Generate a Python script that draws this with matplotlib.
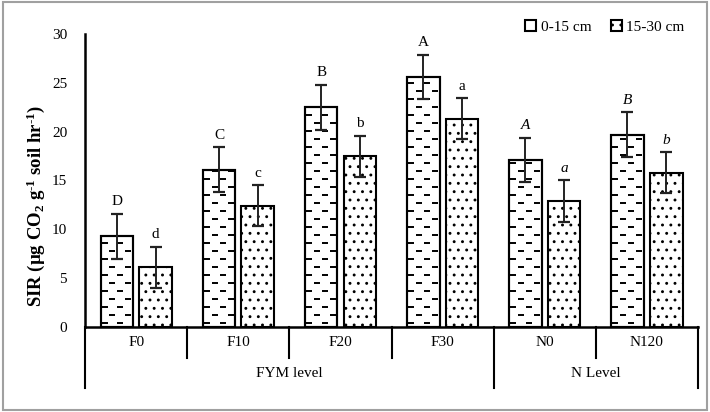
import numpy as np
import matplotlib
matplotlib.use("Agg")
import matplotlib.pyplot as plt
from matplotlib.patches import Rectangle, Patch
import matplotlib.transforms as mtransforms

plt.rcParams['font.family'] = ['Liberation Serif', 'DejaVu Serif']
plt.rcParams['mathtext.fontset'] = 'custom'
plt.rcParams['mathtext.rm'] = 'Liberation Serif:bold'
plt.rcParams['mathtext.bf'] = 'Liberation Serif:bold'
plt.rcParams['mathtext.default'] = 'rm'
plt.rcParams['hatch.linewidth'] = 0.9

categories = ["F0", "F10", "F20", "F30", "N0", "N120"]
groups = ["FYM level", "N Level"]
group_spans = [(0, 3), (4, 5)]
series_names = ["0-15 cm", "15-30 cm"]
sir_0_15 = [9.3, 16.1, 22.5, 25.6, 17.1, 19.7]
sir_15_30 = [6.1, 12.4, 17.5, 21.3, 12.9, 15.8]
err_0_15 = [2.3, 2.3, 2.3, 2.3, 2.3, 2.3]
err_15_30 = [2.1, 2.1, 2.1, 2.1, 2.1, 2.1]
letters_0_15 = ["D", "C", "B", "A", "A", "B"]
letters_15_30 = ["d", "c", "b", "a", "a", "b"]
italic_letters = [False, False, False, False, True, True]
yticks = [0, 5, 10, 15, 20, 25, 30]

fig = plt.figure(figsize=(7.1, 4.12), dpi=100)
ax = fig.add_axes([0.12, 0.2063, 0.863, 0.7112])

x = np.arange(len(categories))
w = 0.32
off = 0.19

bars1 = ax.bar(x - off, sir_0_15, w, color='white', edgecolor='black', linewidth=1.5, zorder=2)
bars2 = ax.bar(x + off, sir_15_30, w, color='white', edgecolor='black', linewidth=1.5,
               hatch='..', zorder=2)

# dashed-brick fill for the first series
px_x = 1 / 102.3   # data units per pixel (x)
px_y = 30 / 293.0  # data units per pixel (y)
for b in bars1:
    x0, x1 = b.get_x(), b.get_x() + b.get_width()
    h = b.get_height()
    rows = np.arange(4 * px_y, h, 8 * px_y)
    for i, yy in enumerate(rows):
        shift = (i % 2) * 8 * px_x
        xs = np.arange(x0 - 16 * px_x + shift + 4 * px_x, x1 + 16 * px_x, 16 * px_x)
        ln, = ax.plot(xs, np.full_like(xs, yy), linestyle='none', marker='_',
                      markersize=4.5, markeredgewidth=1.4, color='black', zorder=2.5)
        ln.set_clip_path(b)
ax.bar(x - off, sir_0_15, w, fill=False, edgecolor='black', linewidth=1.5, zorder=3)

ax.errorbar(x - off, sir_0_15, yerr=err_0_15, fmt='none', ecolor='#222222',
            elinewidth=1.4, capsize=4, capthick=1.6, zorder=4)
ax.errorbar(x + off, sir_15_30, yerr=err_15_30, fmt='none', ecolor='#222222',
            elinewidth=1.4, capsize=4, capthick=1.6, zorder=4)

for i in range(len(categories)):
    st = 'italic' if italic_letters[i] else 'normal'
    ax.annotate(letters_0_15[i], (x[i] - off, sir_0_15[i] + err_0_15[i]),
                xytext=(0, 4), textcoords='offset points', ha='center', va='bottom',
                fontsize=11, style=st)
    ax.annotate(letters_15_30[i], (x[i] + off, sir_15_30[i] + err_15_30[i]),
                xytext=(0, 4), textcoords='offset points', ha='center', va='bottom',
                fontsize=11, style=st)

ax.set_xlim(-0.5, len(categories) - 0.5)
ax.set_ylim(0, 30)
ax.set_yticks(yticks)
ax.set_yticklabels([str(t) for t in yticks], fontsize=11)
ax.tick_params(axis='y', length=0, pad=13)
ax.set_xticks([])
for s in ['top', 'right']:
    ax.spines[s].set_visible(False)
ax.spines['left'].set_linewidth(1.8)
ax.spines['bottom'].set_linewidth(1.8)

ax.set_ylabel(r"SIR (µg CO$_{2}$ g$^{\text{-1}}$ soil hr$^{\text{-1}}$)",
              fontsize=13.5, fontweight='bold')
ax.yaxis.set_label_coords(-0.062, 0.413)

trans = mtransforms.blended_transform_factory(ax.transData, ax.transAxes)
outer = {-0.5, group_spans[0][1] + 0.5, len(categories) - 0.5}
for b in np.arange(-0.5, len(categories), 1.0):
    bottom = -0.208 if b in outer else -0.106
    ax.plot([b, b], [0, bottom], color='black', lw=1.5, transform=trans, clip_on=False)
for i, c in enumerate(categories):
    ax.text(i, -0.053, c, transform=trans, ha='center', va='center', fontsize=11)
for g, (a, b) in zip(groups, group_spans):
    ax.text((a + b) / 2, -0.157, g, transform=trans, ha='center', va='center', fontsize=11)

handles = [Patch(facecolor='white', edgecolor='black', linewidth=1.5),
           Patch(facecolor='white', edgecolor='black', linewidth=1.5, hatch='..')]
fig.legend(handles, series_names, loc='center', bbox_to_anchor=(0.852, 0.934),
           bbox_transform=fig.transFigure, ncol=2, frameon=False, fontsize=11,
           handlelength=0.7, handleheight=0.7, handletextpad=0.3, columnspacing=1.3)

fig.patches.append(Rectangle((0.004, 0.006), 0.992, 0.988, transform=fig.transFigure,
                             fill=False, edgecolor='#a0a0a0', linewidth=1.5))

fig.savefig("out.png", dpi=100)
